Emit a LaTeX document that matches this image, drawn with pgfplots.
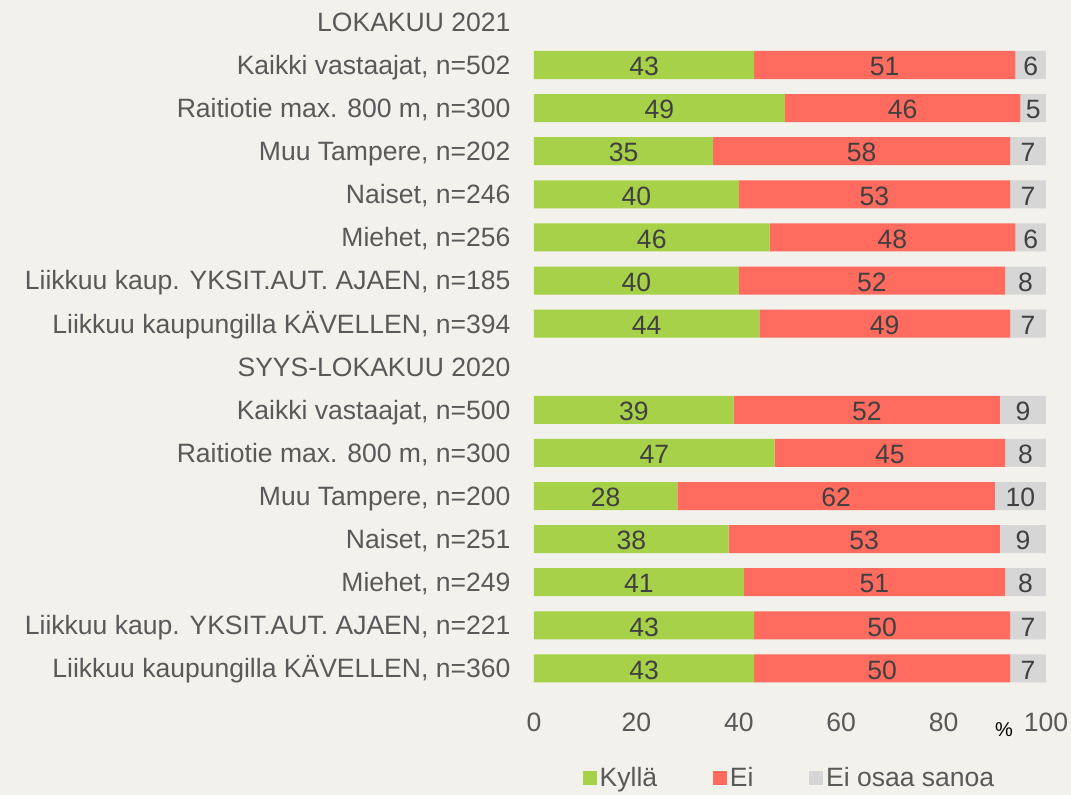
\documentclass[border=0pt]{standalone}
\usepackage{pgfplots}
\pgfplotsset{compat=1.18}
\usepackage{fontspec}
\setmainfont{Liberation Sans}
\usetikzlibrary{backgrounds}
\definecolor{bg}{HTML}{F3F1EC}
\definecolor{cgreen}{HTML}{A8D14A}
\definecolor{cred}{HTML}{FF6B5E}
\definecolor{cgray}{HTML}{D6D6D6}
\definecolor{ctext}{HTML}{595959}
\definecolor{cbar}{HTML}{404040}
\newcommand{\bigf}{\fontsize{19.9}{23}\selectfont}
\begin{document}
\begin{tikzpicture}
\begin{axis}[
  xbar stacked,
  x=3.84pt, y=32.325pt,
  xmin=0, xmax=100, ymin=-0.5, ymax=15.5,
  y dir=reverse,
  bar width=21pt,
  clip=false,
  axis line style={draw=none},
  major tick length=0pt,
  xtick={0,20,...,100},
  ytick={0,...,15},
  yticklabels={{LOKAKUU 2021},{Kaikki vastaajat, n=502},{Raitiotie max. 800 m, n=300},{Muu Tampere, n=202},{Naiset, n=246},{Miehet, n=256},{Liikkuu kaup. YKSIT.AUT. AJAEN, n=185},{Liikkuu kaupungilla KÄVELLEN, n=394},{SYYS-LOKAKUU 2020},{Kaikki vastaajat, n=500},{Raitiotie max. 800 m, n=300},{Muu Tampere, n=200},{Naiset, n=251},{Miehet, n=249},{Liikkuu kaup. YKSIT.AUT. AJAEN, n=221},{Liikkuu kaupungilla KÄVELLEN, n=360}},
  /pgf/number format/assume math mode=true,
  tick label style={font=\bigf, text=ctext},
  xticklabel style={anchor=center, inner sep=0pt, yshift=-24.6pt},
  yticklabel style={anchor=base east, inner sep=0pt, xshift=-17.5pt, yshift=-7.1pt},
  point meta=explicit,
  nodes near coords={\pgfmathprintnumber{\pgfplotspointmeta}},
  every node near coord/.append style={font=\bigf, text=cbar, yshift=-1.2pt},
  legend style={at={(0.5,-0.1276)}, anchor=center, draw=none, fill=none, font=\bigf, text=ctext,
    /tikz/every even column/.append style={column sep=40pt}},
  legend columns=-1,
  legend image code/.code={\fill[#1] (0pt,-5.25pt) rectangle (10.5pt,5.25pt);},
]
\addplot[fill=cgreen, draw=none] coordinates {
 (43,1)[43] (49,2)[49] (35,3)[35] (40,4)[40] (46,5)[46] (40,6)[40] (44,7)[44]
 (39,9)[39] (47,10)[47] (28,11)[28] (38,12)[38] (41,13)[41] (43,14)[43] (43,15)[43]};
\addplot[fill=cred, draw=none] coordinates {
 (51,1)[51] (46,2)[46] (58,3)[58] (53,4)[53] (48,5)[48] (52,6)[52] (49,7)[49]
 (52,9)[52] (45,10)[45] (62,11)[62] (53,12)[53] (51,13)[51] (50,14)[50] (50,15)[50]};
\addplot[fill=cgray, draw=none] coordinates {
 (6,1)[6] (5,2)[5] (7,3)[7] (7,4)[7] (6,5)[6] (8,6)[8] (7,7)[7]
 (9,9)[9] (8,10)[8] (10,11)[10] (9,12)[9] (8,13)[8] (7,14)[7] (7,15)[7]};
\legend{Kyllä, Ei, Ei osaa sanoa}
\node[font=\fontsize{15}{18}\selectfont, text=black] at (axis cs:91.8,16.41) {\%};
\coordinate (bgNW) at (axis cs:-104.297,-0.508);
\coordinate (bgSE) at (axis cs:104.883,17.937);
\end{axis}
\pgfresetboundingbox
\begin{scope}[on background layer]
\fill[bg] (bgNW) rectangle (bgSE);
\end{scope}
\path[use as bounding box] (bgNW) rectangle (bgSE);
\end{tikzpicture}
\end{document}
